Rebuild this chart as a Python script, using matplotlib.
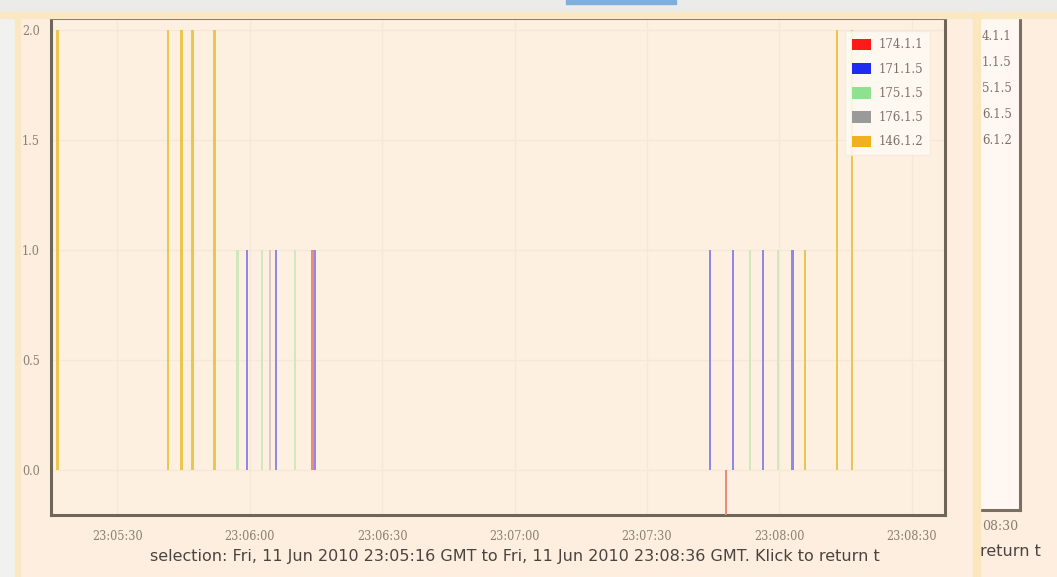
import matplotlib.pyplot as plt
from matplotlib.patches import Patch, Rectangle

# event times in seconds after 23:05:00, with bar heights
red_t = [74.2, 167.9]
red_v = [1, -1]
blue_t = [59.4, 66.0, 74.8, 164.3, 169.5, 176.3, 182.9]
blue_v = [1, 1, 1, 1, 1, 1, 1]
green_t = [57.2, 62.8, 70.3, 173.3, 179.7]
green_v = [1, 1, 1, 1, 1]
gray_t = [64.6]
gray_v = [1]
orange_t = [16.4, 41.5, 44.5, 47.0, 52.0, 185.8, 193.0, 196.4]
orange_v = [2, 2, 2, 2, 2, 1, 2, 2]

labels = ["174.1.1", "171.1.5", "175.1.5", "176.1.5", "146.1.2"]
key_colors = ["#ff1a1a", "#1f2bf0", "#8fe08f", "#9a9a9a", "#f0b020"]
bar_colors = ["#ee8a7a", "#9088e6", "#d2e8bc", "#dccbc4", "#e9c650"]

x_ticks = [30, 60, 90, 120, 150, 180, 210]
x_labels = ["23:05:30", "23:06:00", "23:06:30", "23:07:00", "23:07:30", "23:08:00", "23:08:30"]
y_ticks = [0.0, 0.5, 1.0, 1.5, 2.0]

bg = "#fdeedf"
W, H = 1057, 577

fig = plt.figure(figsize=(W / 100, H / 100), dpi=100, facecolor=bg)

# browser chrome around the chart panel
fig.patches.append(Rectangle((0, 1 - 12 / H), 1, 12 / H, transform=fig.transFigure,
                             color="#ebebea", zorder=0))
fig.patches.append(Rectangle((566 / W, 1 - 4 / H), 110 / W, 4 / H, transform=fig.transFigure,
                             color="#7fb0dd", zorder=1))
fig.patches.append(Rectangle((0, 1 - 18 / H), 1, 6 / H, transform=fig.transFigure,
                             color="#fae8c4", zorder=1))
fig.patches.append(Rectangle((0, 0), 15 / W, 1 - 12 / H, transform=fig.transFigure,
                             color="#f1f1ef", zorder=0))
fig.patches.append(Rectangle((15 / W, 0), 5 / W, 1 - 12 / H, transform=fig.transFigure,
                             color="#fbe7c2", zorder=1))
fig.patches.append(Rectangle((973 / W, 0), 7 / W, 1 - 12 / H, transform=fig.transFigure,
                             color="#fce6bd", zorder=1))

ax = fig.add_axes([51 / W, 1 - 515 / H, 894 / W, 497 / H])
ax.set_facecolor("#fef0e1")

series = [(red_t, red_v), (blue_t, blue_v), (green_t, green_v), (gray_t, gray_v), (orange_t, orange_v)]
for (t, v), c in zip(series, bar_colors):
    ax.bar(t, v, width=0.6, color=c, linewidth=0, zorder=3)

ax.set_xlim(15, 217.5)
ax.set_ylim(-0.2045, 2.0545)
ax.set_xticks(x_ticks)
ax.set_xticklabels(x_labels)
ax.set_yticks(y_ticks)
ax.set_yticklabels([f"{v:.1f}" for v in y_ticks])
ax.tick_params(length=0, labelsize=9, labelcolor="#8a8070")
ax.tick_params(axis="x", pad=11)
ax.tick_params(axis="y", pad=8)
for lab in ax.get_xticklabels() + ax.get_yticklabels():
    lab.set_family("DejaVu Serif")
    lab.set_stretch("condensed")
ax.grid(True, color="#f7e7d6", linewidth=1, zorder=0)
for s in ax.spines.values():
    s.set_color("#6f665a")
    s.set_linewidth(2.2)

handles = [Patch(facecolor=c, edgecolor="none") for c in key_colors]
leg = ax.legend(handles, labels, loc="upper right", bbox_to_anchor=(0.99, 0.985),
                prop={"family": "DejaVu Serif", "size": 8.5}, labelcolor="#7a7068",
                handlelength=1.6, handleheight=1.1, labelspacing=0.95,
                handletextpad=0.6, borderpad=0.6, fancybox=False,
                framealpha=0.85, facecolor="#fffaf4", edgecolor="#f8ead8")

# second panel partly visible at the right edge
ax2 = fig.add_axes([980 / W, 1 - 510 / H, 40 / W, 497 / H])
ax2.set_facecolor("#fff8f2")
ax2.set_xticks([])
ax2.set_yticks([])
for k in ["left", "top"]:
    ax2.spines[k].set_visible(False)
for k in ["right", "bottom"]:
    ax2.spines[k].set_color("#7a7062")
    ax2.spines[k].set_linewidth(2.2)
for lab, yy in zip(["4.1.1", "1.1.5", "5.1.5", "6.1.5", "6.1.2"], [37, 62, 88, 114, 141]):
    fig.text(982 / W, 1 - yy / H, lab, family="DejaVu Serif", size=8.5,
             color="#7a7068", va="center")
fig.text(982 / W, 1 - 527 / H, "08:30", family="DejaVu Serif", size=9,
         color="#8a8070", va="center")
fig.text(980 / W, 1 - 551 / H, "return t", size=11.5, color="#4a4440", va="center")

fig.text(150 / W, 1 - 556 / H,
         "selection: Fri, 11 Jun 2010 23:05:16 GMT to Fri, 11 Jun 2010 23:08:36 GMT. Klick to return t",
         size=11.5, color="#4a4440", va="center")

fig.savefig("out.png", dpi=100, facecolor=bg)
